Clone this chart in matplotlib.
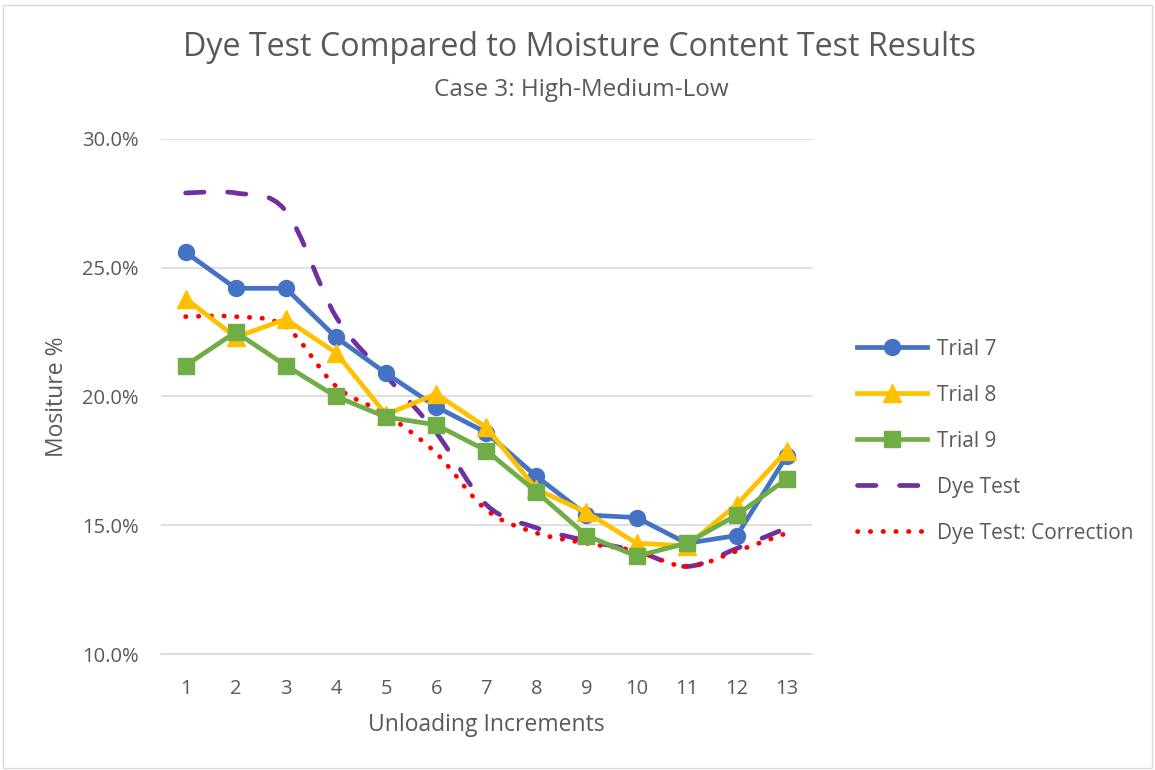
import matplotlib
matplotlib.use("Agg")
from matplotlib import pyplot as plt
from matplotlib.path import Path
from matplotlib.patches import PathPatch, Rectangle
from matplotlib.lines import Line2D
from matplotlib.ticker import PercentFormatter

plt.rcParams['font.family'] = ['Open Sans', 'DejaVu Sans']

increments = list(range(1, 14))
trial7 = [25.6, 24.2, 24.2, 22.3, 20.9, 19.6, 18.6, 16.9, 15.4, 15.3, 14.3, 14.6, 17.7]
trial8 = [23.8, 22.3, 23.0, 21.7, 19.3, 20.1, 18.8, 16.4, 15.5, 14.3, 14.2, 15.8, 17.9]
trial9 = [21.2, 22.5, 21.2, 20.0, 19.2, 18.9, 17.9, 16.3, 14.6, 13.8, 14.3, 15.4, 16.8]
dye_test = [27.9, 27.9, 27.2, 23.1, 20.8, 18.6, 15.8, 14.9, 14.4, 14.0, 13.4, 14.1, 14.9]
dye_corr = [23.1, 23.1, 22.7, 20.4, 19.3, 17.8, 15.6, 14.7, 14.3, 14.0, 13.4, 14.0, 14.7]

grey = '#595959'
blue, gold, green, purple, red = '#4472C4', '#FFC000', '#70AD47', '#7030A0', '#FF0000'
LW = 3.4
DASH = (0, (3.9, 5.0))
DOT = (0, (0.1, 2.6))


def smooth_path(xs, ys):
    # excel style smoothed line: catmull-rom turned into bezier segments
    verts = [(xs[0], ys[0])]
    codes = [Path.MOVETO]
    n = len(xs)
    for i in range(n - 1):
        x0, y0 = (xs[i - 1], ys[i - 1]) if i > 0 else (xs[i], ys[i])
        x1, y1 = xs[i], ys[i]
        x2, y2 = xs[i + 1], ys[i + 1]
        x3, y3 = (xs[i + 2], ys[i + 2]) if i + 2 < n else (x2, y2)
        c1 = (x1 + (x2 - x0) / 6, y1 + (y2 - y0) / 6)
        c2 = (x2 - (x3 - x1) / 6, y2 - (y3 - y1) / 6)
        verts += [c1, c2, (x2, y2)]
        codes += [Path.CURVE4] * 3
    return Path(verts, codes)


fig = plt.figure(figsize=(11.55, 7.7), dpi=100)
ax = fig.add_axes([0.139, 0.1506, 0.564, 0.669])

ax.plot(increments, trial7, color=blue, lw=LW, marker='o', ms=11.5)
ax.plot(increments, trial8, color=gold, lw=LW, marker='^', ms=12.5)
ax.plot(increments, trial9, color=green, lw=LW, marker='s', ms=11)

ax.add_patch(PathPatch(smooth_path(increments, dye_test), fill=False, edgecolor=purple,
                       lw=LW, linestyle=DASH, capstyle='round'))
ax.add_patch(PathPatch(smooth_path(increments, dye_corr), fill=False, edgecolor=red,
                       lw=LW, linestyle=DOT, capstyle='round'))

ax.set_xlim(0.5, 13.5)
ax.set_ylim(10, 30)
ax.set_xticks(increments)
ax.set_yticks([10, 15, 20, 25, 30])
ax.yaxis.set_major_formatter(PercentFormatter(decimals=1))
ax.grid(axis='y', color='#d9d9d9', lw=1.2)
ax.set_axisbelow(True)
for s in ['top', 'right', 'left']:
    ax.spines[s].set_visible(False)
ax.spines['bottom'].set_color('#d9d9d9')
ax.spines['bottom'].set_linewidth(1.2)
ax.tick_params(length=0, colors=grey, labelsize=14.5)
ax.tick_params(axis='x', pad=18)
ax.tick_params(axis='y', pad=16)

ax.set_xlabel('Unloading Increments', fontsize=16.5, color=grey, labelpad=10)
ax.set_ylabel('Mositure %', fontsize=16.5, color=grey, labelpad=9)

fig.text(0.502, 0.938, 'Dye Test Compared to Moisture Content Test Results',
         ha='center', va='center', fontsize=23.2, color=grey)
fig.text(0.503, 0.883, 'Case 3: High-Medium-Low', ha='center', va='center',
         fontsize=17.5, color=grey)

handles = [
    Line2D([], [], color=blue, lw=LW, marker='o', ms=11.5),
    Line2D([], [], color=gold, lw=LW, marker='^', ms=12.5),
    Line2D([], [], color=green, lw=LW, marker='s', ms=11),
    Line2D([], [], color=purple, lw=LW, linestyle=DASH, dash_capstyle='round'),
    Line2D([], [], color=red, lw=LW, linestyle=DOT, dash_capstyle='round'),
]
labels = ['Trial 7', 'Trial 8', 'Trial 9', 'Dye Test', 'Dye Test: Correction']
leg = fig.legend(handles, labels, loc='center left', bbox_to_anchor=(0.726, 0.427),
                 frameon=False, fontsize=15, handlelength=3.35, labelspacing=1.2,
                 handletextpad=0.5)
for t in leg.get_texts():
    t.set_color(grey)

fig.patches.append(Rectangle((0.003, 0.003), 0.994, 0.99, transform=fig.transFigure,
                             fill=False, edgecolor='#d9d9d9', lw=1))

fig.savefig('out.png', dpi=100)
